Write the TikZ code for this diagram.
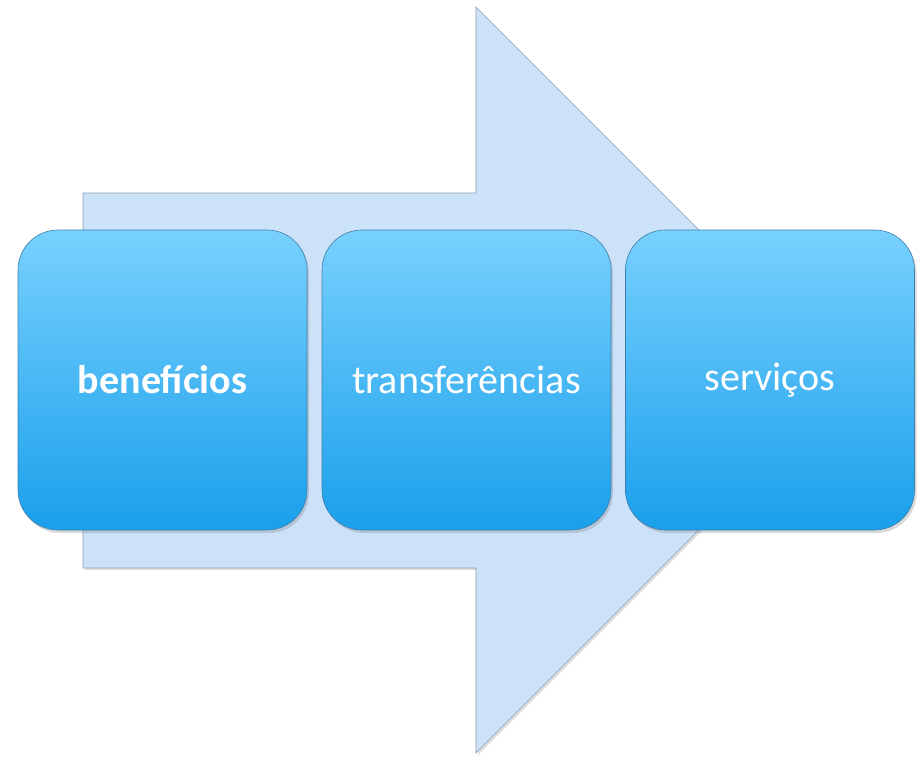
\documentclass[tikz,border=0pt]{standalone}
\usepackage{fontspec}
\setmainfont{Carlito}
\usetikzlibrary{shadows}
\definecolor{arrowFill}{HTML}{CCE2F9}
\definecolor{arrowLine}{HTML}{8C9DB2}
\definecolor{boxTop}{HTML}{78D1FE}
\definecolor{boxBottom}{HTML}{1A9FEB}
\definecolor{boxLine}{HTML}{3D7FAA}
\tikzset{
	bigArrow/.style = {fill = arrowFill, draw = arrowLine, line width = 0.6pt, drop shadow = {shadow xshift = 2pt, shadow yshift = -2pt, opacity = 0.25}},
	phase/.style = {rounded corners = 40pt, minimum width = 289pt, minimum height = 300pt, top color = boxTop, bottom color = boxBottom, draw = boxLine, line width = 0.6pt, text = white, font = \fontsize{40}{48}\selectfont, drop shadow = {shadow xshift = 2pt, shadow yshift = -3pt, opacity = 0.3}},
}
\newcommand{\phaseNode}[3]{
	\node[phase] (#1) at (#2, 380) {#3};
}

\begin{document}
\begin{tikzpicture}[x = 1pt, y = -1pt]%

		\useasboundingbox (0, 0) rectangle (918, 757);

		% arrow behind the boxes
		\draw[bigArrow] (83, 193) -- (476, 193) -- (476, 7) -- (849, 380) -- (476, 753) -- (476, 568) -- (83, 568) -- cycle;

		% boxes
		\phaseNode{beneficios}{162.5}{\textbf{benefícios}}
		\phaseNode{transferencias}{466.5}{transferências}
		\phaseNode{servicos}{770}{serviços}

	\end{tikzpicture}
\end{document}
